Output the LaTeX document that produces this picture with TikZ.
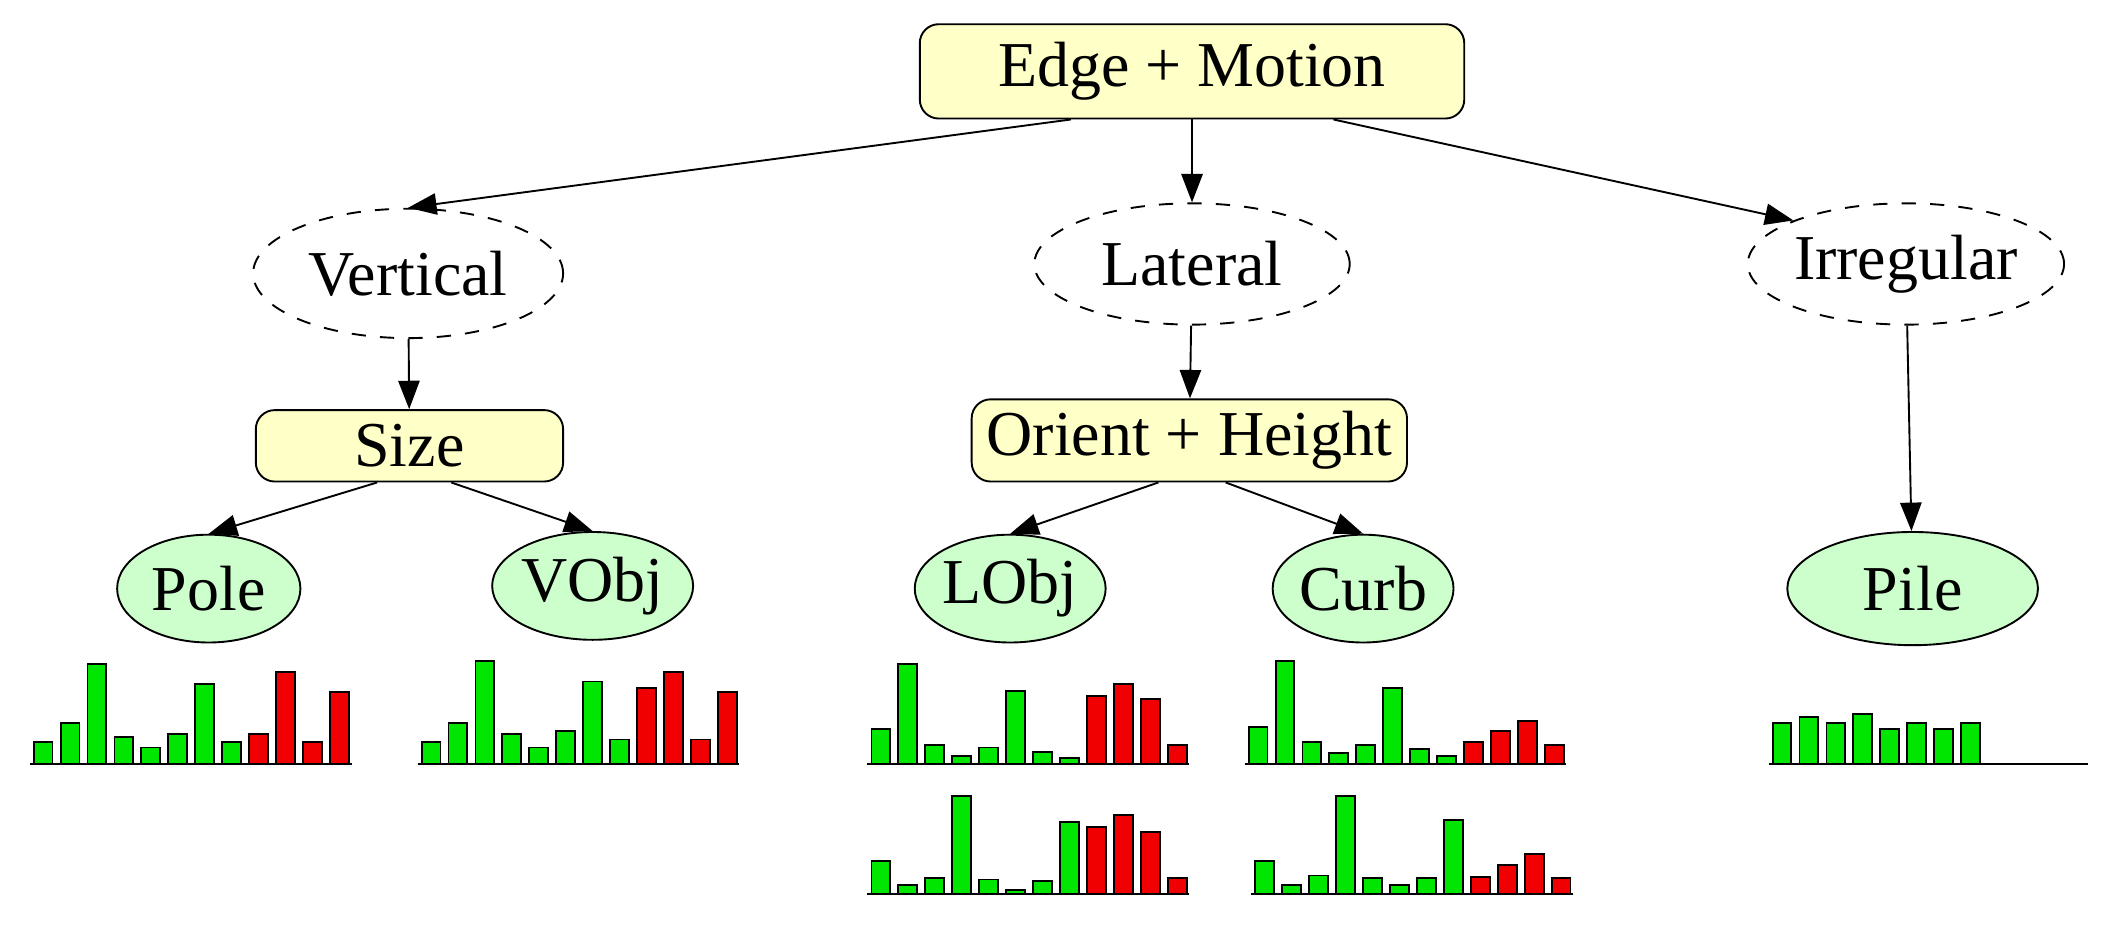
\documentclass[tikz,border=0pt]{standalone}
\usepackage{fontspec}
\setmainfont{Liberation Serif}
\usetikzlibrary{arrows.meta, shapes.geometric}

\definecolor{boxyellow}{RGB}{255,255,200}
\definecolor{leafgreen}{RGB}{204,255,204}
\definecolor{bargreen}{RGB}{0,230,0}
\definecolor{barred}{RGB}{240,0,0}

% one histogram: start x, baseline y, list of height/colour
\newcommand{\histo}[3]{%
  \foreach \h/\c [count=\i] in {#3} {
    \draw[fill=\c] ({#1+(\i-1)*20},#2) rectangle ++(14,-\h);
  }
}

\begin{document}
\begin{tikzpicture}[
  x=0.01cm, y=-0.01cm,
  font=\fontsize{13.5}{16}\selectfont,
  box/.style={rectangle, draw, rounded corners=4pt, fill=boxyellow, inner sep=0pt},
  cue/.style={ellipse, draw, dashed, inner sep=0pt},
  leaf/.style={ellipse, draw, fill=leafgreen, inner sep=0pt},
  arrow/.style={-{Triangle[length=6pt,width=4.5pt]}}
  ]
\useasboundingbox (0,0) rectangle (1568,689);

\node[box, minimum width=4.04cm, minimum height=0.70cm] (edge) at (885,53) {Edge + Motion};

\node[cue, minimum width=2.30cm, minimum height=0.96cm] (vert) at (303,203) {Vertical};
\node[cue, minimum width=2.34cm, minimum height=0.90cm] (lat) at (885,196) {Lateral};
\node[cue, minimum width=2.30cm, minimum height=0.90cm] (irr) at (1415,196) {Irregular};

\node[box, minimum width=2.28cm, minimum height=0.53cm] (size) at (304,331) {Size};
\node[box, minimum width=3.23cm, minimum height=0.61cm] (orient) at (883,327) {Orient + Height};

\node[leaf, minimum width=1.36cm, minimum height=0.80cm] (pole) at (155,437) {Pole};
\node[leaf, minimum width=1.36cm, minimum height=0.80cm] (vobj) at (440,435) {VObj};
\node[leaf, minimum width=1.14cm, minimum height=0.80cm] (lobj) at (750,437) {LObj};
\node[leaf, minimum width=1.24cm, minimum height=0.80cm] (curb) at (1012,437) {Curb};
\node[leaf, minimum width=1.86cm, minimum height=0.84cm] (pile) at (1420,437) {Pile};

\draw[arrow] (edge.south) ++(-90,0) -- (vert.north);
\draw[arrow] (edge) -- (lat);
\draw[arrow] (edge.south) ++(105,0) -- (irr.north west);
\draw[arrow] (vert) -- (size);
\draw[arrow] (lat) -- (orient);
\draw[arrow] (irr) -- (pile);
\draw[arrow] (size.south) ++(-24,0) -- (pole.north);
\draw[arrow] (size.south) ++(31,0) -- (vobj.north);
\draw[arrow] (orient.south) ++(-23,0) -- (lobj.north);
\draw[arrow] (orient.south) ++(27,0) -- (curb.north);

% histograms
\histo{25}{567}{16/bargreen,30/bargreen,74/bargreen,20/bargreen,12/bargreen,22/bargreen,59/bargreen,16/bargreen,22/barred,68/barred,16/barred,53/barred}
\draw (22,567) -- (261,567);
\histo{313}{567}{16/bargreen,30/bargreen,76/bargreen,22/bargreen,12/bargreen,24/bargreen,61/bargreen,18/bargreen,56/barred,68/barred,18/barred,53/barred}
\draw (310,567) -- (549,567);
\histo{647}{567}{26/bargreen,74/bargreen,14/bargreen,6/bargreen,12/bargreen,54/bargreen,9/bargreen,4/bargreen,50/barred,59/barred,48/barred,14/barred}
\draw (644,567) -- (883,567);
\histo{927}{567}{27/bargreen,76/bargreen,16/bargreen,8/bargreen,14/bargreen,56/bargreen,11/bargreen,6/bargreen,16/barred,24/barred,32/barred,14/barred}
\draw (924,567) -- (1163,567);
\histo{647}{664}{25/bargreen,7/bargreen,12/bargreen,73/bargreen,11/bargreen,3/bargreen,10/bargreen,54/bargreen,50/barred,59/barred,46/barred,12/barred}
\draw (644,664) -- (883,664);
\histo{932}{664}{25/bargreen,7/bargreen,14/bargreen,73/bargreen,12/bargreen,7/bargreen,12/bargreen,55/bargreen,13/barred,22/barred,30/barred,12/barred}
\draw (929,664) -- (1168,664);
\histo{1316}{567}{30/bargreen,35/bargreen,30/bargreen,37/bargreen,26/bargreen,30/bargreen,26/bargreen,30/bargreen}
\draw (1313,567) -- (1550,567);

\end{tikzpicture}
\end{document}
